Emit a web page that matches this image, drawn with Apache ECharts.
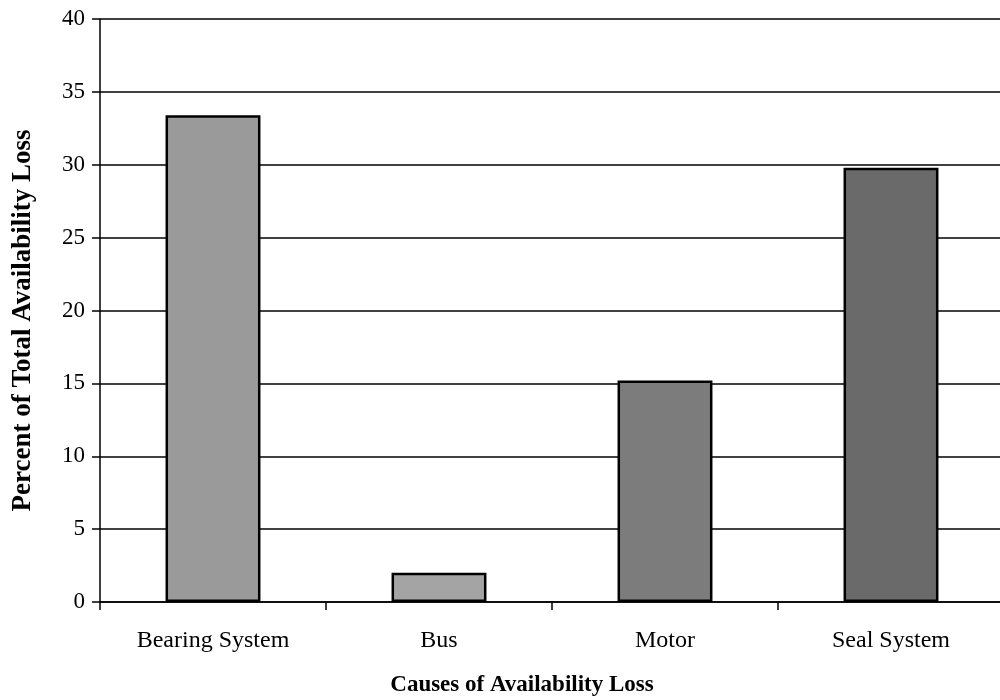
<!DOCTYPE html>
<html><head><meta charset="utf-8">
<script src="https://cdn.jsdelivr.net/npm/echarts@6/dist/echarts.min.js"></script>
<style>html,body{margin:0;padding:0;background:#fff}#c{width:1000px;height:700px}</style>
</head><body><div id="c"></div>
<script>
const categories = ['Bearing System', 'Bus', 'Motor', 'Seal System'];
const values = [33.4, 2.0, 15.2, 29.8];
const barColors = ['#9a9a9a', '#a4a4a4', '#7c7c7c', '#6a6a6a'];
const yTicks = [0, 5, 10, 15, 20, 25, 30, 35, 40];

const chart = echarts.init(document.getElementById('c'));
chart.setOption({
  animation: false,
  backgroundColor: '#fff',
  textStyle: { fontFamily: 'Liberation Serif' },
  grid: { left: 100, top: 19, width: 904, height: 583, containLabel: false, outerBoundsMode: 'none' },
  xAxis: {
    type: 'category',
    data: categories,
    name: 'Causes of Availability Loss',
    nameLocation: 'middle',
    nameGap: 72,
    nameTextStyle: { fontFamily: 'Liberation Serif', fontWeight: 'bold', fontSize: 23, color: '#000', padding: [0, 60, 0, 0] },
    axisLine: { lineStyle: { color: '#000', width: 1.5 } },
    axisTick: { show: true, length: 8, alignWithLabel: false, lineStyle: { color: '#000', width: 1.5 } },
    axisLabel: { color: '#000', fontSize: 24, margin: 27, fontFamily: 'Liberation Serif' }
  },
  yAxis: {
    type: 'value',
    min: 0, max: 40, interval: 5,
    name: 'Percent of Total Availability Loss',
    nameLocation: 'middle',
    nameGap: 63,
    nameTextStyle: { fontFamily: 'Liberation Serif', fontWeight: 'bold', fontSize: 27, color: '#000', padding: [0, 20, 0, 0] },
    axisLine: { show: true, lineStyle: { color: '#000', width: 1.5 } },
    axisTick: { show: true, length: 8, lineStyle: { color: '#000', width: 1.5 } },
    axisLabel: {
      color: '#000', fontSize: 23, margin: 15, fontFamily: 'Liberation Serif',
      formatter: v => yTicks.includes(v) ? String(v) : ''
    },
    splitLine: { show: true, lineStyle: { color: '#000', width: 1.5 } }
  },
  series: [{
    type: 'bar',
    data: values.map((v, i) => ({ value: v, itemStyle: { color: barColors[i] } })),
    barWidth: '42%',
    itemStyle: { borderColor: '#000', borderWidth: 2.5 }
  }]
});
</script></body></html>
